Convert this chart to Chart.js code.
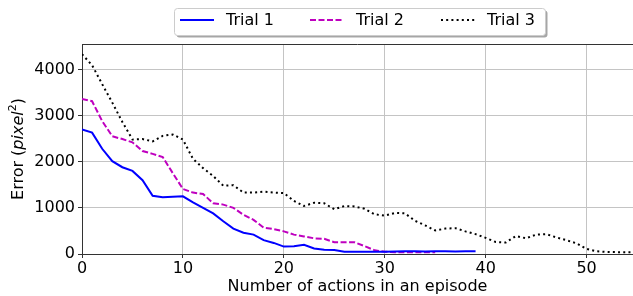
<!DOCTYPE html>
<html>
<head>
<meta charset="utf-8">
<script src="https://cdn.jsdelivr.net/npm/chart.js@4.4.0/dist/chart.umd.min.js"></script>
<style>
  html, body { margin: 0; padding: 0; background: #fff; }
  #wrap { width: 633px; height: 296px; position: relative; }
</style>
</head>
<body>
<div id="wrap"><canvas id="grafico"></canvas></div>
<script>
// datos (x = numero de acciones, empieza en 0)
const trial1 = [2700, 2630, 2280, 2010, 1880, 1800, 1600, 1260, 1230, 1240, 1250, 1120, 1000, 880, 710, 550, 460, 420, 300, 240,
  160, 170, 200, 120, 90, 85, 50, 50, 50, 50, 50, 55, 60, 60, 55, 60, 60, 55, 60, 60];
const trial2 = [3360, 3310, 2880, 2550, 2490, 2420, 2230, 2170, 2100, 1750, 1410, 1330, 1300, 1100, 1070, 1000, 850, 740, 570, 540,
  490, 420, 380, 340, 330, 255, 255, 255, 170, 80, 50, 40, 40, 40, 40, 40];
const trial3 = [4330, 4090, 3680, 3280, 2860, 2480, 2490, 2440, 2560, 2590, 2480, 2060, 1860, 1690, 1480, 1490, 1330, 1330, 1350, 1330,
  1320, 1150, 1040, 1110, 1100, 970, 1040, 1030, 980, 860, 830, 890, 880, 720, 620, 510, 550, 560, 490, 430,
  350, 260, 250, 390, 340, 420, 430, 360, 300, 230, 110, 60, 45, 40, 40, 40];
const etiquetas = ['Trial 1', 'Trial 2', 'Trial 3'];
const xTicks = [0, 10, 20, 30, 40, 50];
const yTicks = [0, 1000, 2000, 3000, 4000];

const fuente = 'DejaVu Sans';

function puntos(serie) {
    return serie.map((v, i) => ({ x: i, y: v }));
}

// marco superior + leyenda con sombra + titulo del eje y con cursiva
const extras = {
    id: 'extras',
    afterDraw(chart) {
        const ctx = chart.ctx;
        const area = chart.chartArea;
        ctx.save();
        ctx.strokeStyle = '#333';
        ctx.lineWidth = 1;
        ctx.beginPath();
        ctx.moveTo(area.left, area.top + 0.5);
        ctx.lineTo(area.right, area.top + 0.5);
        ctx.stroke();

        // leyenda
        const bx = 174.5, by = 8.5, bw = 371, bh = 27;
        ctx.fillStyle = 'rgba(0,0,0,0.35)';
        ctx.beginPath();
        ctx.roundRect(bx + 2, by + 2, bw, bh, 3);
        ctx.fill();
        ctx.fillStyle = '#fff';
        ctx.strokeStyle = '#cccccc';
        ctx.beginPath();
        ctx.roundRect(bx, by, bw, bh, 3);
        ctx.fill();
        ctx.stroke();

        const inicios = [180, 310, 441];
        ctx.font = '16px "' + fuente + '"';
        ctx.textBaseline = 'middle';
        ctx.textAlign = 'left';
        chart.data.datasets.forEach((ds, i) => {
            const x0 = inicios[i];
            ctx.strokeStyle = ds.borderColor;
            ctx.lineWidth = ds.borderWidth;
            ctx.setLineDash(ds.borderDash || []);
            ctx.beginPath();
            ctx.moveTo(x0, 20);
            ctx.lineTo(x0 + 34, 20);
            ctx.stroke();
            ctx.setLineDash([]);
            ctx.fillStyle = '#000';
            ctx.fillText(ds.label, x0 + 46, 21);
        });

        // titulo eje y: Error (pixel^2)
        ctx.translate(19, (area.top + area.bottom) / 2);
        ctx.rotate(-Math.PI / 2);
        const partes = [
            { t: 'Error (', f: '16px "' + fuente + '"', dy: 0 },
            { t: 'pixel', f: 'italic 16px "' + fuente + '"', dy: 0 },
            { t: '2', f: '11px "' + fuente + '"', dy: -6 },
            { t: ')', f: '16px "' + fuente + '"', dy: 0 }
        ];
        let total = 0;
        partes.forEach(p => { ctx.font = p.f; total += ctx.measureText(p.t).width; });
        let x = -total / 2;
        ctx.fillStyle = '#000';
        partes.forEach(p => {
            ctx.font = p.f;
            ctx.fillText(p.t, x, p.dy);
            x += ctx.measureText(p.t).width;
        });
        ctx.restore();
    }
};

const config = {
    type: 'line',
    data: {
        datasets: [
            { label: etiquetas[0], data: puntos(trial1), borderColor: '#0000ff', borderWidth: 2, pointRadius: 0, fill: false },
            { label: etiquetas[1], data: puntos(trial2), borderColor: '#bf00bf', borderWidth: 2, borderDash: [6, 2.5], pointRadius: 0, fill: false },
            { label: etiquetas[2], data: puntos(trial3), borderColor: '#000000', borderWidth: 2, borderDash: [2, 3.2], pointRadius: 0, fill: false }
        ]
    },
    options: {
        responsive: true,
        maintainAspectRatio: false,
        animation: false,
        layout: { padding: { top: 44, left: 0, right: 0, bottom: 0 } },
        plugins: { legend: { display: false }, tooltip: { enabled: false } },
        scales: {
            x: {
                type: 'linear',
                min: 0,
                max: 54.6,
                afterBuildTicks: s => { s.ticks = xTicks.map(v => ({ value: v })); },
                afterFit: s => { s.height = 42; },
                grid: { color: '#c4c4c4', lineWidth: 1, tickLength: 4, tickColor: '#333' },
                border: { color: '#333', width: 1 },
                ticks: { color: '#000', font: { family: fuente, size: 16 }, padding: 1, maxRotation: 0, callback: v => String(v) },
                title: { display: true, text: 'Number of actions in an episode', color: '#000', font: { family: fuente, size: 16 }, padding: { top: 0, bottom: 0 } }
            },
            y: {
                min: 0,
                max: 4550,
                afterBuildTicks: s => { s.ticks = yTicks.map(v => ({ value: v })); },
                afterFit: s => { s.width = 82; },
                grid: { color: '#c4c4c4', lineWidth: 1, tickLength: 4, tickColor: '#333' },
                border: { color: '#333', width: 1 },
                ticks: { color: '#000', font: { family: fuente, size: 16 }, padding: 3, callback: v => String(v) }
            }
        }
    },
    plugins: [extras]
};

const chart = new Chart(document.getElementById('grafico'), config);
</script>
</body>
</html>
